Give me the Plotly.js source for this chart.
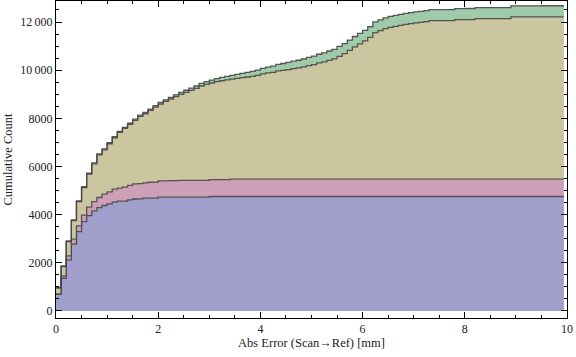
<!DOCTYPE html>
<html>
<head>
<meta charset="utf-8">
<script src="https://cdn.plot.ly/plotly-3.0.1.min.js"></script>
<style>html,body{margin:0;padding:0;background:#fff;}#chart{width:576px;height:357px;}</style>
</head>
<body>
<div id="chart"></div>
<script>
// Cumulative count per bin (bin width 0.1 mm), one array per stacked layer
const blueCounts = [694,1360,2120,2773,3298,3713,3962,4160,4290,4380,
  4450,4518,4560,4565,4615,4650,4657,4685,4685,4685,
  4727,4727,4727,4727,4727,4727,4727,4727,4727,4727,
  4755,4755,4755,4755,4755,4755,4755,4755,4755,4755,
  4755,4755,4755,4755,4755,4755,4755,4755,4755,4755,
  4755,4755,4755,4755,4755,4755,4755,4755,4755,4755,
  4755,4755,4755,4755,4755,4755,4755,4755,4755,4755,
  4755,4755,4755,4755,4755,4755,4755,4755,4755,4755,
  4755,4755,4755,4755,4755,4755,4755,4755,4755,4755,
  4755,4755,4755,4755,4755,4755,4755,4755,4755,4755];
const pinkCounts = [20,95,167,208,236,266,350,385,422,472,
  498,541,541,578,597,631,632,638,660,668,
  675,680,683,686,695,700,700,700,700,700,
  700,700,700,700,720,720,720,720,720,720,
  720,720,720,720,720,720,720,720,720,720,
  720,720,720,720,720,720,720,720,720,720,
  720,720,720,720,720,720,720,720,720,720,
  720,720,720,720,720,720,720,720,720,720,
  720,720,720,720,720,720,720,720,720,720,
  720,720,720,720,720,720,720,720,720,720];
const khakiCounts = [241,387,595,774,1011,1148,1372,1567,1774,1842,
  1996,2134,2314,2438,2535,2632,2791,2868,2984,3116,
  3192,3296,3392,3485,3572,3650,3733,3816,3916,3983,
  4013,4067,4105,4145,4155,4185,4215,4242,4270,4311,
  4367,4409,4436,4492,4517,4546,4587,4616,4658,4712,
  4754,4824,4866,4935,4991,5101,5211,5349,5491,5615,
  5740,5885,6085,6167,6250,6305,6347,6388,6430,6459,
  6487,6513,6541,6583,6583,6583,6583,6583,6625,6625,
  6625,6625,6666,6666,6666,6666,6666,6666,6666,6735,
  6735,6735,6735,6735,6735,6735,6735,6735,6735,6735];
const greenCounts = [25,27,28,30,30,33,35,37,38,40,
  41,42,44,46,48,50,52,54,56,58,
  63,67,72,77,82,88,94,100,106,113,
  120,128,137,146,155,165,178,190,203,216,
  230,243,256,270,285,300,310,320,330,340,
  350,362,374,386,398,410,418,425,432,437,
  440,442,444,446,448,450,451,452,453,454,
  455,456,456,457,457,458,458,458,459,459,
  460,460,460,460,460,460,460,460,460,460,
  460,460,460,460,460,465,465,465,465,465];

const xTickVals = [0,2,4,6,8,10];
const xTickText = ['0','2','4','6','8','10'];
const yTickVals = [0,2000,4000,6000,8000,10000,12000];
const yTickText = ['0','2000','4000','6000','8000','10\u2009000','12\u2009000'];

const BIN_WIDTH = 0.1;
const X_END = 9.94;

function stepTrace(counts, fill) {
  const x = counts.map((_, i) => +(i * BIN_WIDTH).toFixed(4));
  x.push(X_END);
  const y = counts.slice();
  y.push(counts[counts.length - 1]);
  return {
    type: 'scatter', mode: 'lines', x: x, y: y,
    stackgroup: 'one',
    line: {shape: 'hv', color: 'rgba(70,70,70,0.9)', width: 1.3},
    fillcolor: fill, hoverinfo: 'skip', showlegend: false
  };
}

const data = [
  stepTrace(blueCounts, '#a09fcc'),
  stepTrace(pinkCounts, '#cda0b8'),
  stepTrace(khakiCounts, '#cbc5a0'),
  stepTrace(greenCounts, '#9fcbab')
];

const axisFont = {family: 'Liberation Serif, Times New Roman, serif', size: 12, color: '#222'};

const layout = {
  width: 576, height: 357,
  margin: {l: 56, r: 9, t: 1, b: 39},
  paper_bgcolor: '#fff', plot_bgcolor: '#fff',
  showlegend: false,
  xaxis: {
    range: [0, 10], showgrid: false, zeroline: false,
    showline: true, linecolor: '#000', linewidth: 1, mirror: 'ticks',
    ticks: 'inside', ticklen: 6, tickcolor: '#000', tickwidth: 1,
    tickmode: 'array', tickvals: xTickVals, ticktext: xTickText,
    tickfont: axisFont,
    minor: {dtick: 0.5, ticks: 'inside', ticklen: 3, tickcolor: '#000', showgrid: false},
    title: {text: 'Abs Error (Scan\u2192Ref) [mm]', font: {family: axisFont.family, size: 12.5, color: '#222'}, standoff: 2}
  },
  yaxis: {
    range: [-291, 12872], showgrid: false, zeroline: false,
    showline: true, linecolor: '#000', linewidth: 1, mirror: 'ticks',
    ticks: 'inside', ticklen: 6, tickcolor: '#000', tickwidth: 1,
    tickmode: 'array', tickvals: yTickVals, ticktext: yTickText,
    tickfont: axisFont,
    minor: {dtick: 500, ticks: 'inside', ticklen: 3, tickcolor: '#000', showgrid: false},
    title: {text: 'Cumulative Count', font: {family: axisFont.family, size: 12.5, color: '#222'}, standoff: 4}
  }
};

Plotly.newPlot('chart', data, layout, {staticPlot: true, displayModeBar: false});
</script>
</body>
</html>
